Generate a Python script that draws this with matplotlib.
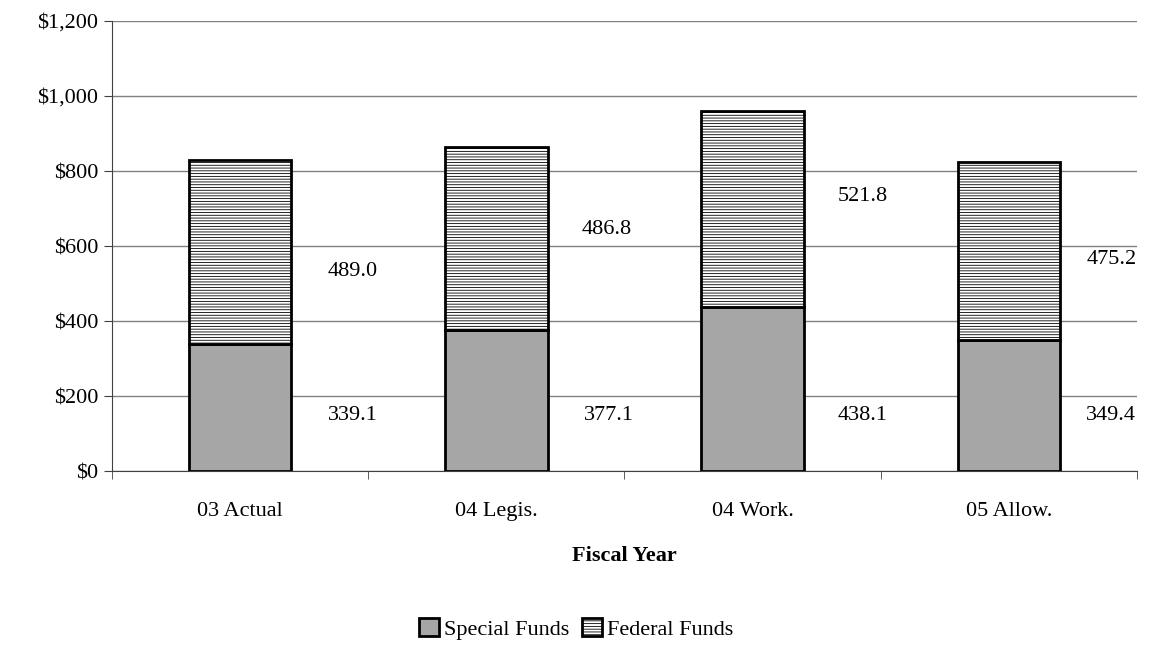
import matplotlib.pyplot as plt
import numpy as np

plt.rcParams['font.family'] = ['Liberation Serif', 'DejaVu Serif']
plt.rcParams['hatch.linewidth'] = 0.6

# data
categories = ['03 Actual', '04 Legis.', '04 Work.', '05 Allow.']
special = [339.1, 377.1, 438.1, 349.4]
federal = [489.0, 486.8, 521.8, 475.2]

# where Excel put the value labels (x offset from bar centre, y in $)
spec_lbl_pos = [(0.44, 149), (0.44, 149), (0.43, 149), (0.40, 149)]
fed_lbl_pos = [(0.44, 533), (0.43, 643), (0.43, 731), (0.40, 565)]

fig = plt.figure(figsize=(11.52, 6.48), dpi=100)
ax = fig.add_axes([0.0972, 0.273, 0.8898, 0.6946])

x = np.arange(len(categories))
ax.bar(x, special, width=0.4, color='#a6a6a6', edgecolor='black', linewidth=2,
       label='Special Funds', zorder=3)
ax.bar(x, federal, width=0.4, bottom=special, color='white', edgecolor='black',
       linewidth=2, hatch='------', label='Federal Funds', zorder=3)

for i in range(len(categories)):
    dx, y = spec_lbl_pos[i]
    ax.text(x[i] + dx, y, f'{special[i]:.1f}', ha='center', va='center', fontsize=16)
    dx, y = fed_lbl_pos[i]
    ax.text(x[i] + dx, y, f'{federal[i]:.1f}', ha='center', va='center', fontsize=16)

ax.set_xlim(-0.5, len(categories) - 0.5)
ax.set_ylim(0, 1200)
ax.set_yticks(range(0, 1201, 200))
ax.set_yticklabels([f'${v:,}' for v in range(0, 1201, 200)], fontsize=16)
ax.yaxis.grid(True, color='#808080', linewidth=1, zorder=0)

ax.set_xticks(x)
ax.set_xticklabels(categories, fontsize=16)
ax.set_xticks(np.arange(-0.5, len(categories)), minor=True)
ax.tick_params(axis='x', which='major', length=0, pad=22)
ax.tick_params(axis='x', which='minor', length=6, color='#404040')
ax.tick_params(axis='y', length=6, color='#404040', pad=4)
ax.set_xlabel('Fiscal Year', fontsize=16, fontweight='bold', labelpad=18)

for s in ['top', 'right']:
    ax.spines[s].set_visible(False)
for s in ['left', 'bottom']:
    ax.spines[s].set_color('#404040')

fig.legend(loc='center', bbox_to_anchor=(0.5, 0.03), ncol=2, frameon=False,
           fontsize=16, handlelength=0.9, handleheight=0.9, handletextpad=0.2,
           columnspacing=0.6)

plt.savefig('out.png', dpi=100)
